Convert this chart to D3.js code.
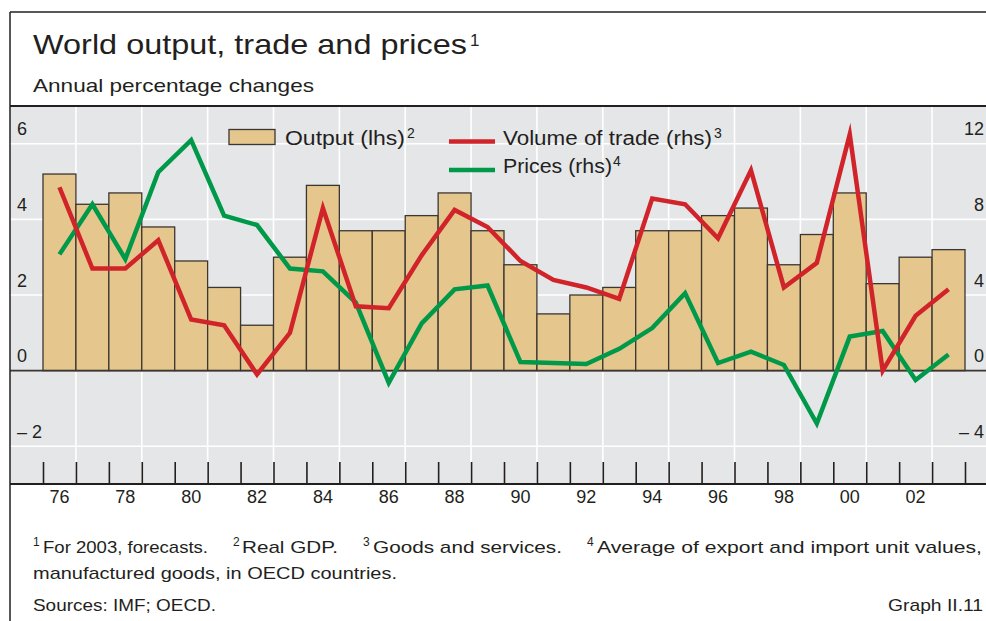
<!DOCTYPE html>
<html>
<head>
<meta charset="utf-8">
<script src="https://cdn.jsdelivr.net/npm/d3@7"></script>
<style>
  html, body { margin: 0; padding: 0; background: #fff; }
  svg { display: block; }
  text { font-family: "Liberation Sans", Arial, sans-serif; fill: #231f20; }
</style>
</head>
<body>
<svg id="chart" width="986" height="621"></svg>
<script>
// ---- Data ----
const years = d3.range(1976, 2004);
const output = [5.2, 4.4, 4.7, 3.8, 2.9, 2.2, 1.2, 3.0, 4.9, 3.7, 3.7, 4.1, 4.7, 3.7,
                2.8, 1.5, 2.0, 2.2, 3.7, 3.7, 4.1, 4.3, 2.8, 3.6, 4.7, 2.3, 3.0, 3.2];
const tradeVolume = [9.7, 5.4, 5.4, 6.9, 2.7, 2.4, -0.2, 2.0, 8.6, 3.4, 3.3, 6.1, 8.5, 7.6,
                     5.8, 4.8, 4.4, 3.8, 9.1, 8.8, 7.0, 10.6, 4.4, 5.7, 12.5, 0.0, 2.9, 4.3];
const prices = [6.15, 8.8, 5.9, 10.5, 12.2, 8.2, 7.7, 5.4, 5.25, 3.6, -0.65, 2.5, 4.3, 4.5,
                0.45, 0.4, 0.35, 1.15, 2.25, 4.1, 0.4, 1.0, 0.3, -2.8, 1.8, 2.1, -0.5, 0.85];
const leftTicks = [-2, 0, 2, 4, 6];
const rightTicks = [-4, 0, 4, 8, 12];
const xLabelYears = years.filter(y => y % 2 === 0);

// ---- Layout ----
const svg = d3.select("#chart");
const W = 986, H = 621;
const plotTop = 106, plotBottom = 484, plotLeft = 10;
const barLeft = 43, barRight = 965;

const C = {
  grey: "#e5e6e8", bar: "#e5c68d", barStroke: "#3b3632",
  red: "#d1232a", green: "#00994a", ink: "#231f20", grid: "#ffffff"
};

const x = d3.scaleBand().domain(years).range([barLeft, barRight]).padding(0);
const bw = x.bandwidth();
const xEdge = d3.scaleLinear().domain([1976, 2004]).range([barLeft, barRight]);
const yL = d3.scaleLinear().domain([-3, 7]).range([plotBottom, plotTop]);
const yR = d3.scaleLinear().domain([-6, 14]).range([plotBottom, plotTop]);

function txt(g, s, xx, yy, size, opts = {}) {
  const t = g.append("text").attr("x", xx).attr("y", yy)
    .style("font-size", size + "px").text(s);
  if (opts.anchor) t.attr("text-anchor", opts.anchor);
  if (opts.len) t.attr("textLength", opts.len).attr("lengthAdjust", "spacingAndGlyphs");
  return t;
}

// plot background
svg.append("rect").attr("x", plotLeft).attr("y", plotTop)
  .attr("width", W - plotLeft).attr("height", plotBottom - plotTop).attr("fill", C.grey);

// horizontal gridlines
svg.append("g").selectAll("line").data(leftTicks.filter(v => v !== 0)).join("line")
  .attr("x1", plotLeft).attr("x2", W).attr("y1", d => yL(d)).attr("y2", d => yL(d))
  .attr("stroke", C.grid).attr("stroke-width", 1.6);
// vertical gridlines (every two years)
svg.append("g").selectAll("line").data(xLabelYears).join("line")
  .attr("x1", d => x(d) + bw).attr("x2", d => x(d) + bw)
  .attr("y1", plotTop).attr("y2", plotBottom)
  .attr("stroke", C.grid).attr("stroke-width", 1.6);

// bars
svg.append("g").selectAll("rect").data(years.map((y, i) => ({ y, v: output[i] }))).join("rect")
  .attr("x", d => x(d.y)).attr("width", bw)
  .attr("y", d => yL(Math.max(0, d.v))).attr("height", d => Math.abs(yL(d.v) - yL(0)))
  .attr("fill", C.bar).attr("stroke", C.barStroke).attr("stroke-width", 1.3);

// zero line
svg.append("line").attr("x1", plotLeft).attr("x2", W).attr("y1", yL(0)).attr("y2", yL(0))
  .attr("stroke", C.barStroke).attr("stroke-width", 1.6);

// lines
const line = d3.line().x(d => x(d.y) + bw / 2).y(d => yR(d.v));
svg.append("path").datum(years.map((y, i) => ({ y, v: prices[i] })))
  .attr("d", line).attr("fill", "none").attr("stroke", C.green)
  .attr("stroke-width", 4.5).attr("stroke-linejoin", "miter").attr("stroke-miterlimit", 10);
svg.append("path").datum(years.map((y, i) => ({ y, v: tradeVolume[i] })))
  .attr("d", line).attr("fill", "none").attr("stroke", C.red)
  .attr("stroke-width", 4.5).attr("stroke-linejoin", "miter").attr("stroke-miterlimit", 10);

// bottom ticks (at year boundaries)
const tickAxis = d3.axisTop(xEdge).tickValues(d3.range(1976, 2005)).tickSize(22).tickFormat("");
const gT = svg.append("g").attr("transform", `translate(0,${plotBottom})`).call(tickAxis);
gT.select(".domain").remove();
gT.selectAll(".tick line").attr("stroke", C.ink).attr("stroke-width", 1.6);

// x labels
const labAxis = d3.axisBottom(x).tickValues(xLabelYears).tickSize(0)
  .tickFormat(d => String(d).slice(2));
const gX = svg.append("g").attr("transform", `translate(0,${plotBottom})`).call(labAxis);
gX.select(".domain").remove();
gX.selectAll("text").attr("y", 19).attr("dy", 0)
  .style("font-size", "18px").style("font-family", "Liberation Sans, Arial, sans-serif")
  .attr("fill", C.ink);

// x axis line, frame
svg.append("line").attr("x1", plotLeft).attr("x2", W).attr("y1", plotBottom).attr("y2", plotBottom)
  .attr("stroke", C.ink).attr("stroke-width", 2);
svg.append("line").attr("x1", plotLeft).attr("x2", W).attr("y1", plotTop).attr("y2", plotTop)
  .attr("stroke", C.ink).attr("stroke-width", 2);
svg.append("line").attr("x1", plotLeft).attr("x2", W).attr("y1", 12).attr("y2", 12)
  .attr("stroke", C.ink).attr("stroke-width", 1.5);
svg.append("line").attr("x1", plotLeft).attr("x2", plotLeft).attr("y1", 12).attr("y2", H)
  .attr("stroke", C.ink).attr("stroke-width", 1.5);

// y axes labels
const fmt = v => v < 0 ? "\u2013 " + Math.abs(v) : String(v);
const gL = svg.append("g").attr("transform", "translate(17,0)")
  .call(d3.axisRight(yL).tickValues(leftTicks).tickSize(0).tickFormat(fmt));
gL.select(".domain").remove();
gL.selectAll("text").attr("x", 0).attr("dy", 0).attr("y", -9).attr("text-anchor", "start")
  .style("font-size", "18px").style("font-family", "Liberation Sans, Arial, sans-serif").attr("fill", C.ink);
const gR = svg.append("g").attr("transform", "translate(984,0)")
  .call(d3.axisLeft(yR).tickValues(rightTicks).tickSize(0).tickFormat(fmt));
gR.select(".domain").remove();
gR.selectAll("text").attr("x", 0).attr("dy", 0).attr("y", -9).attr("text-anchor", "end")
  .style("font-size", "18px").style("font-family", "Liberation Sans, Arial, sans-serif").attr("fill", C.ink);

// legend
const lg = svg.append("g");
lg.append("rect").attr("x", 229).attr("y", 129.5).attr("width", 46).attr("height", 15)
  .attr("fill", C.bar).attr("stroke", C.barStroke).attr("stroke-width", 1.3);
txt(lg, "Output (lhs)", 285, 145, 20, { len: 120 });
txt(lg, "2", 407, 138, 14);
lg.append("line").attr("x1", 449).attr("x2", 495).attr("y1", 141.5).attr("y2", 141.5)
  .attr("stroke", C.red).attr("stroke-width", 4.5);
txt(lg, "Volume of trade (rhs)", 503, 145, 20, { len: 209 });
txt(lg, "3", 714, 138, 14);
lg.append("line").attr("x1", 449).attr("x2", 495).attr("y1", 170).attr("y2", 170)
  .attr("stroke", C.green).attr("stroke-width", 4.5);
txt(lg, "Prices (rhs)", 503, 173, 20, { len: 109 });
txt(lg, "4", 613, 166, 14);

// titles
txt(svg, "World output, trade and prices", 33, 54, 28, { len: 434 });
txt(svg, "1", 470, 46, 17);
txt(svg, "Annual percentage changes", 33, 92, 19, { len: 281 });

// footnotes
const fn = svg.append("g");
txt(fn, "1", 33, 546, 12);
txt(fn, "For 2003, forecasts.", 43, 553, 17, { len: 165 });
txt(fn, "2", 233, 546, 12);
txt(fn, "Real GDP.", 242, 553, 17, { len: 96 });
txt(fn, "3", 363, 546, 12);
txt(fn, "Goods and services.", 373, 553, 17, { len: 189 });
txt(fn, "4", 587, 546, 12);
txt(fn, "Average of export and import unit values,", 597, 553, 17, { len: 385 });
txt(fn, "manufactured goods, in OECD countries.", 33, 579, 17, { len: 364 });
txt(fn, "Sources: IMF; OECD.", 33, 611, 17, { len: 183 });
txt(fn, "Graph II.11", 888, 611, 17, { len: 95 });
</script>
</body>
</html>
